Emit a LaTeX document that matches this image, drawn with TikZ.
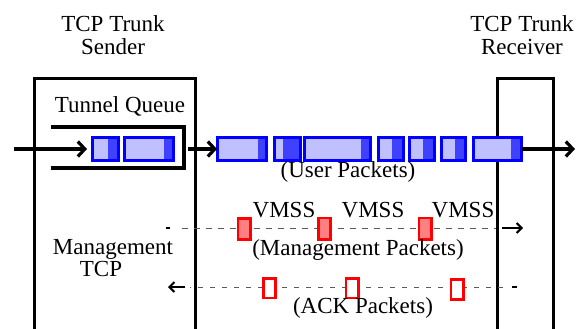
\documentclass[tikz,border=0pt]{standalone}
\usepackage{fontspec}
\setmainfont{Liberation Serif}
\newfontfamily\timesfam{Liberation Serif}
\usetikzlibrary{arrows.meta}
\definecolor{pktlight}{RGB}{192,192,255}
\definecolor{pktdark}{RGB}{64,64,255}
\definecolor{mgmtred}{RGB}{255,128,128}
\tikzset{
 lbl/.style={anchor=base,inner sep=0pt,font=\timesfam\fontsize{23}{26}\selectfont},
 wall/.style={line width=3pt},
 upkt/.style={draw=blue,line width=2.8pt,fill=pktlight,minimum height=23.2,inner sep=0pt,
  path picture={\fill[pktdark]([xshift=-#1]path picture bounding box.north east)rectangle(path picture bounding box.south east);}},
 mpkt/.style={draw=red,line width=2.6pt,fill=mgmtred,inner sep=0pt,minimum width=12.4,minimum height=21.4},
 apkt/.style={mpkt,fill=white,minimum height=19.6},
 flow/.style={line width=3.2pt,-{Straight Barb[length=7pt,width=15pt]}},
 thinflow/.style={line width=2pt,-{Straight Barb[length=5pt,width=10pt]}},
 ctrl/.style={black!65,line width=.9pt,dash pattern=on 5.5pt off 6.5pt},
}
% packet: name, left, right, dark part
\newcommand\userpkt[4]{\node[upkt=#4,minimum width=#3-#2-2.8](#1)at({(#2+#3)/2},149){};}

\begin{document}
\begin{tikzpicture}[x=1pt,y=-1pt]
\useasboundingbox(0,0)rectangle(576,329);
\node[lbl](sndA)at(113,32){TCP Trunk};\node[lbl](sndB)at(113,55){Sender};
\node[lbl](rcvA)at(522,32){TCP Trunk};\node[lbl](rcvB)at(522,55){Receiver};
\draw[wall](34,329)|-(195,79)--(195,329);
\draw[wall](497,329)|-(553,79)--(553,329);
\node[lbl](tq)at(120,113){Tunnel Queue};
\draw[line width=4.3pt](51,127)-|(184,168)--(51,168);

% data path
\userpkt{q1}{91}{120}{11}\userpkt{q2}{123}{175}{10}
\userpkt{u1}{216}{268}{9}\userpkt{u2}{273}{302}{18}\userpkt{u3}{303}{372}{10}
\userpkt{u4}{377}{405}{12}\userpkt{u5}{408}{436}{12}\userpkt{u6}{440}{467}{11}
\userpkt{u7}{472}{523}{11}
\coordinate(inS)at(14,149);\coordinate(qout)at(188,149);\coordinate(outR)at(576,149);
\draw[flow,shorten >=4pt](inS)--(q1.west);
\draw[flow,shorten >=-1pt](qout)--(u1.west);
\draw[flow,shorten <=-1pt,shorten >=1pt](u7.east)--(outR);
\node[lbl](up)at(348,177){(User Packets)};

% management packets and acks
\coordinate(m0)at(166,228);\coordinate(m1)at(523,228);
\coordinate(a0)at(517,287);\coordinate(a1)at(168,287);
\draw[ctrl,shorten <=16pt,shorten >=27pt](m0)--(m1);
\draw[line width=2.4pt](m0)--++(4,0);\draw[thinflow]([xshift=-21]m1)--(m1);
\draw[ctrl,shorten <=14pt,shorten >=22pt](a0)--(a1);
\draw[line width=2.4pt](a0)--++(-5,0);\draw[thinflow]([xshift=17]a1)--(a1);
\node[mpkt](m1p)at(244,229){};\node[mpkt](m2p)at(324.5,228.5){};\node[mpkt](m3p)at(425,228.5){};
\node[apkt](k1)at(269.5,288){};\node[apkt](k2)at(352,288){};\node[apkt,minimum height=20.4](k3)at(457,289.5){};
\node[lbl](v1)at(284,217){VMSS};\node[lbl](v2)at(373,217){VMSS};\node[lbl](v3)at(463,217){VMSS};
\node[lbl](mp)at(358,255){(Management Packets)};
\node[lbl](ap)at(363,313){(ACK Packets)};
\node[lbl](mgA)at(113,254){Management};\node[lbl](mgB)at(101,276){TCP};
\end{tikzpicture}
\end{document}
